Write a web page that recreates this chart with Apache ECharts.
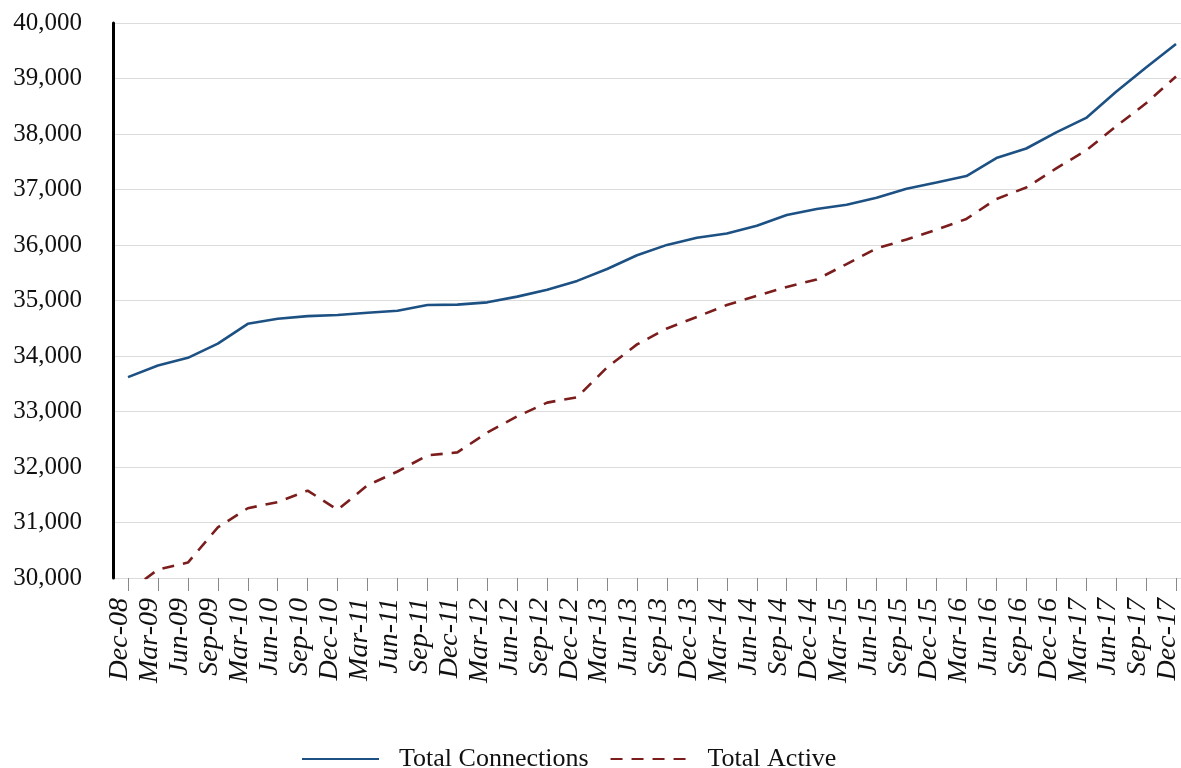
<!DOCTYPE html>
<html>
<head>
<meta charset="utf-8">
<script src="https://cdn.jsdelivr.net/npm/echarts@6/dist/echarts.min.js"></script>
<style>
html,body{margin:0;padding:0;background:#fff;}
#chart{width:1181px;height:768px;}
</style>
</head>
<body>
<div id="chart"></div>
<script>
const categories = ["Dec-08","Mar-09","Jun-09","Sep-09","Mar-10","Jun-10","Sep-10","Dec-10","Mar-11","Jun-11","Sep-11","Dec-11","Mar-12","Jun-12","Sep-12","Dec-12","Mar-13","Jun-13","Sep-13","Dec-13","Mar-14","Jun-14","Sep-14","Dec-14","Mar-15","Jun-15","Sep-15","Dec-15","Mar-16","Jun-16","Sep-16","Dec-16","Mar-17","Jun-17","Sep-17","Dec-17"];
const totalConnections = [33620,33830,33967,34222,34580,34670,34718,34739,34780,34814,34919,34926,34967,35070,35195,35353,35567,35815,36002,36132,36208,36346,36539,36649,36726,36850,37014,37126,37243,37567,37739,38029,38290,38760,39200,39622];
const totalActive = [29750,30153,30278,30912,31257,31368,31574,31229,31671,31919,32209,32263,32622,32912,33160,33257,33795,34209,34497,34705,34919,35085,35243,35380,35656,35940,36098,36277,36470,36829,37036,37380,37705,38139,38553,39036];
const seriesNames = ["Total Connections","Total Active"];
const yMin = 30000, yMax = 40000, yStep = 1000;

const chart = echarts.init(document.getElementById('chart'), null, {renderer:'canvas'});
const font = "'Liberation Serif', 'Times New Roman', serif";
chart.setOption({
  animation: false,
  backgroundColor: '#fff',
  grid: [
    {left: 113, top: 23, right: 0, height: 555, containLabel: false, outerBoundsMode: 'none'},
    {left: 128, top: 23, right: 5, height: 555, containLabel: false, outerBoundsMode: 'none'}
  ],
  legend: {
    left: 296, top: 741,
    itemWidth: 77, itemHeight: 14, itemGap: 21,
    itemStyle: {opacity: 0},
    textStyle: {fontFamily: font, fontSize: 26, color: '#111', padding: [0,0,0,15]},
    data: seriesNames
  },
  xAxis: [
    {
      gridIndex: 0, type: 'value', min: 0, max: 1, show: false
    },
    {
      gridIndex: 1,
      type: 'category',
      data: categories,
      boundaryGap: false,
      axisLine: {show: false},
      axisTick: {show: true, length: 13, lineStyle: {color: '#888', width: 1}},
      axisLabel: {
        interval: 0, rotate: 90, margin: 20,
        verticalAlign: 'bottom', lineHeight: 16,
        fontFamily: font, fontSize: 28, fontStyle: 'italic', color: '#111'
      },
      splitLine: {show: false}
    }
  ],
  yAxis: [
    {
      gridIndex: 0,
      type: 'value',
      min: yMin, max: yMax, interval: yStep,
      axisLine: {show: true, lineStyle: {color: '#000', width: 3}},
      axisTick: {show: false},
      axisLabel: {
        margin: 31, fontFamily: font, fontSize: 25, color: '#111',
        formatter: v => v.toLocaleString('en-US')
      },
      splitLine: {show: true, lineStyle: {color: '#dcdcdc', width: 1}}
    },
    {
      gridIndex: 1,
      type: 'value',
      min: yMin, max: yMax, interval: yStep,
      show: false,
      splitLine: {show: false}
    }
  ],
  series: [
    {
      name: seriesNames[0], type: 'line', data: totalConnections,
      xAxisIndex: 1, yAxisIndex: 1,
      symbol: 'none', smooth: false,
      lineStyle: {color: '#1d5184', width: 2.6},
      itemStyle: {color: '#1d5184'}
    },
    {
      name: seriesNames[1], type: 'line', data: totalActive,
      xAxisIndex: 1, yAxisIndex: 1,
      symbol: 'none', smooth: false,
      lineStyle: {color: '#7c1d1d', width: 2.6, type: [12, 9]},
      itemStyle: {color: '#7c1d1d'}
    }
  ]
});
</script>
</body>
</html>
